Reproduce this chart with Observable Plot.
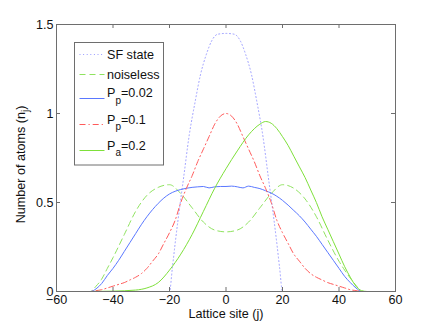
<!DOCTYPE html>
<html>
<head>
<meta charset="utf-8">
<script src="https://cdn.jsdelivr.net/npm/d3@7"></script>
<script src="https://cdn.jsdelivr.net/npm/@observablehq/plot@0.6"></script>
<style>
  html, body { margin: 0; padding: 0; background: #fff; }
  #chart { width: 436px; height: 328px; }
</style>
</head>
<body>
<div id="chart"></div>
<script>
// ---- data ----
const xTicks = [-60, -40, -20, 0, 20, 40, 60];
const yTicks = [0, 0.5, 1, 1.5];
const seriesNames = ["SF state", "noiseless", "P_p=0.02", "P_p=0.1", "P_a=0.2"];

const sfJ = [-60, -20, -19, -18, -17, -15, -13, -11, -9, -7, -5, -3, 0, 3, 5, 7, 9, 11, 13, 15, 17, 18, 19, 20, 60];
const sfN = [0, 0, 0.13, 0.27, 0.40, 0.64, 0.88, 1.06, 1.22, 1.33, 1.41, 1.445, 1.45, 1.445, 1.41, 1.33, 1.22, 1.06, 0.88, 0.64, 0.40, 0.27, 0.13, 0, 0];

const noiselessJ = [-60, -48, -46, -44, -42, -40, -36, -32, -28, -24, -20, -16, -12, -8, -4, 0, 4, 8, 12, 16, 20, 24, 28, 32, 36, 40, 42, 44, 46, 48, 60];
const noiselessN = [0, 0, 0.03, 0.07, 0.13, 0.19, 0.32, 0.45, 0.54, 0.585, 0.60, 0.55, 0.47, 0.39, 0.345, 0.335, 0.345, 0.39, 0.47, 0.55, 0.60, 0.58, 0.52, 0.42, 0.29, 0.17, 0.12, 0.075, 0.035, 0, 0];

const pp002J = [-60, -48, -46, -44, -42, -40, -38, -36, -34, -32, -30, -28, -26, -24, -22, -20, -18, -16, -14, -12, -10, -8, -6, -4, -2, 0, 2, 4, 6, 8, 10, 12, 14, 16, 18, 20, 22, 24, 26, 28, 30, 32, 34, 36, 38, 40, 42, 44, 46, 48, 60];
const pp002N = [0, 0, 0.015, 0.045, 0.09, 0.13, 0.175, 0.225, 0.275, 0.325, 0.375, 0.42, 0.46, 0.495, 0.525, 0.548, 0.563, 0.573, 0.58, 0.585, 0.588, 0.59, 0.582, 0.588, 0.59, 0.59, 0.592, 0.588, 0.582, 0.592, 0.585, 0.578, 0.566, 0.553, 0.535, 0.512, 0.485, 0.455, 0.425, 0.39, 0.35, 0.31, 0.265, 0.22, 0.175, 0.13, 0.085, 0.05, 0.02, 0, 0];

const pp01J = [-60, -48, -46, -44, -42, -40, -38, -36, -34, -32, -30, -28, -26, -24, -22, -20, -18, -16, -14, -12, -10, -8, -6, -4, -2, 0, 2, 4, 6, 8, 10, 12, 14, 16, 18, 20, 22, 24, 26, 28, 30, 32, 34, 36, 38, 40, 42, 44, 46, 48, 60];
const pp01N = [0, 0, 0.005, 0.01, 0.02, 0.03, 0.04, 0.05, 0.065, 0.08, 0.10, 0.13, 0.17, 0.21, 0.27, 0.33, 0.40, 0.50, 0.58, 0.65, 0.73, 0.80, 0.87, 0.94, 0.985, 1.0, 0.985, 0.94, 0.87, 0.80, 0.73, 0.65, 0.58, 0.50, 0.40, 0.33, 0.27, 0.21, 0.17, 0.13, 0.10, 0.08, 0.065, 0.05, 0.04, 0.03, 0.02, 0.01, 0.005, 0, 0];

const pa02J = [-60, -48, -40, -32, -28, -24, -20, -16, -12, -8, -4, 0, 4, 8, 12, 14, 16, 18, 20, 22, 24, 26, 28, 30, 32, 34, 36, 38, 40, 42, 44, 46, 48, 50, 60];
const pa02N = [0, 0, 0.002, 0.008, 0.02, 0.05, 0.12, 0.21, 0.32, 0.45, 0.58, 0.69, 0.79, 0.88, 0.94, 0.955, 0.945, 0.915, 0.87, 0.82, 0.76, 0.70, 0.64, 0.57, 0.50, 0.42, 0.35, 0.28, 0.21, 0.14, 0.08, 0.03, 0.005, 0, 0];

// ---- layout ----
const W = 436, H = 328;
const mL = 56, mR = 41, mT = 24, mB = 37;
const pw = W - mL - mR, ph = H - mT - mB;
const tickLen = 4;
const FONT = "'Liberation Sans', Arial, Helvetica, sans-serif";
const FS = 12.6;

const toRows = (js, ns) => js.map((j, i) => ({j, n: ns[i]}));
const styles = [
  {stroke: "#9a9cff", strokeDasharray: "1,2.6"},
  {stroke: "#8fe35f", strokeDasharray: "6,4"},
  {stroke: "#5a78ff"},
  {stroke: "#ff5a5a", strokeDasharray: "6,3,1.2,3"},
  {stroke: "#7ee03a"}
];
const datasets = [
  toRows(sfJ, sfN),
  toRows(noiselessJ, noiselessN),
  toRows(pp002J, pp002N),
  toRows(pp01J, pp01N),
  toRows(pa02J, pa02N)
];

const lines = datasets.map((rows, i) =>
  Plot.line(rows, {x: "j", y: "n", curve: "monotone-x", strokeWidth: 1, ...styles[i]})
);

const axisColor = "#6e6e6e";
const fmt = d => d < 0 ? "\u2212" + Math.abs(d) : String(d);

const chart = Plot.plot({
  width: W, height: H,
  marginLeft: mL, marginRight: mR, marginTop: mT, marginBottom: mB,
  style: {fontFamily: FONT, fontSize: FS + "px", background: "white", color: "#222"},
  x: {domain: [-60, 60]},
  y: {domain: [0, 1.5]},
  marks: [
    ...lines,
    Plot.frame({stroke: axisColor}),
    Plot.tickX(xTicks, {x: d => d, insetTop: ph - tickLen, stroke: axisColor}),
    Plot.tickX(xTicks, {x: d => d, insetBottom: ph - tickLen, stroke: axisColor}),
    Plot.tickY(yTicks, {y: d => d, insetRight: pw - tickLen, stroke: axisColor}),
    Plot.tickY(yTicks, {y: d => d, insetLeft: pw - tickLen, stroke: axisColor}),
    Plot.axisX({ticks: xTicks, tickSize: 0, tickPadding: 4, label: null, fill: "#111", tickFormat: fmt}),
    Plot.axisY({ticks: yTicks, tickSize: 0, tickPadding: 3, label: null, fill: "#111", tickFormat: fmt})
  ]
});

document.getElementById("chart").appendChild(chart);

// ---- axis titles and legend (with subscripts) ----
const svg = d3.select(chart);
const g = svg.append("g").attr("font-family", FONT).attr("font-size", FS).attr("fill", "#111");

// x label
g.append("text").attr("x", mL + pw / 2 + 0.5).attr("y", 318).attr("text-anchor", "middle").text("Lattice site (j)");

// y label
const yl = g.append("text").attr("transform", `translate(25,${mT + ph / 2 + 7}) rotate(-90)`).attr("text-anchor", "middle");
yl.append("tspan").text("Number of atoms (n");
yl.append("tspan").attr("font-size", 10).attr("dy", 4).text("j");
yl.append("tspan").attr("dy", -4).text(")");

// legend
const lg = svg.append("g").attr("font-family", FONT).attr("font-size", FS).attr("fill", "#111")
  .attr("text-anchor", "start");
lg.append("rect").attr("x", 74.5).attr("y", 42.5).attr("width", 89).attr("height", 122.5)
  .attr("fill", "white").attr("stroke", axisColor);
const entries = [
  {main: "SF state", sub: null, rest: "", lineY: 54.5, base: 59},
  {main: "noiseless", sub: null, rest: "", lineY: 74.5, base: 79},
  {main: "P", sub: "p", rest: "=0.02", lineY: 98.5, base: 97.3},
  {main: "P", sub: "p", rest: "=0.1", lineY: 124.5, base: 124},
  {main: "P", sub: "a", rest: "=0.2", lineY: 150.5, base: 150}
];
entries.forEach((e, i) => {
  const s = styles[i];
  lg.append("line").attr("x1", 79.5).attr("x2", 104.5).attr("y1", e.lineY).attr("y2", e.lineY)
    .attr("stroke", s.stroke).attr("stroke-width", 1)
    .attr("stroke-dasharray", s.strokeDasharray || null);
  const t = lg.append("text").attr("x", 107).attr("y", e.base).attr("text-anchor", "start");
  t.append("tspan").text(e.main);
  if (e.sub) {
    t.append("tspan").attr("font-size", 10).attr("dy", 6.2).text(e.sub);
    t.append("tspan").attr("dy", -6.2).text(e.rest);
  }
});
</script>
</body>
</html>
